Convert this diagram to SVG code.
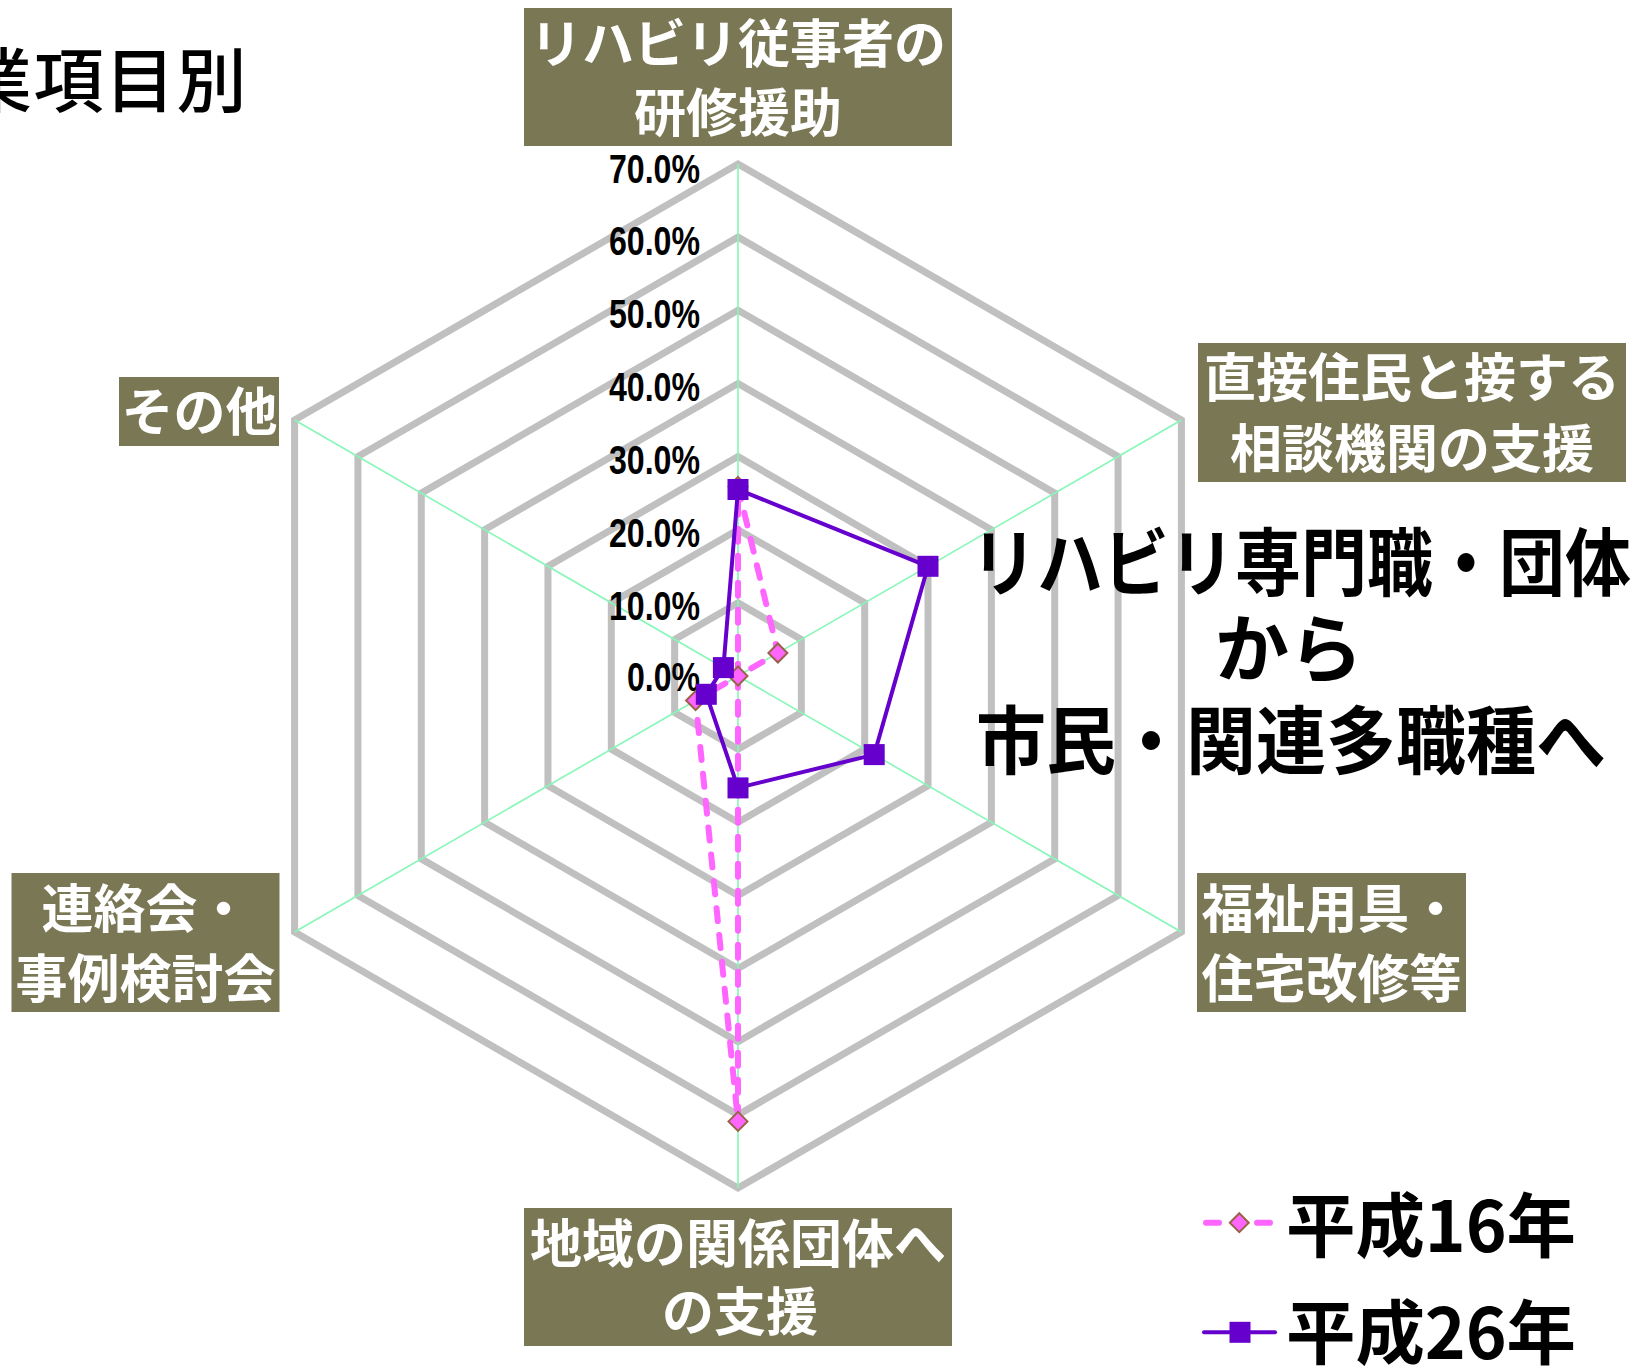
<svg xmlns="http://www.w3.org/2000/svg" width="1637" height="1366" viewBox="0 0 1637 1366">
<style>
.ring{fill:none;stroke:#c0c0c0;stroke-width:7;stroke-linejoin:miter}
.spoke{stroke:#86f7b6;stroke-width:1.6}
.pct{font-family:"Liberation Sans",Arial,sans-serif;font-weight:bold;font-size:40px;fill:#000;text-anchor:end}
.box{fill:#7a7755}
.cat{font-family:"Noto Sans CJK JP","Noto Sans CJK SC",sans-serif;font-weight:bold;font-size:52px;fill:#fff;text-anchor:middle}
.big{font-family:"Noto Sans CJK JP","Noto Sans CJK SC",sans-serif;font-weight:bold;font-size:74px;fill:#000;text-anchor:middle}
.leg{font-family:"Noto Sans CJK JP","Noto Sans CJK SC",sans-serif;font-weight:bold;font-size:70px;fill:#000}
.s16{fill:none;stroke:#ff66ff;stroke-width:6;stroke-dasharray:13 14;stroke-linecap:round;stroke-linejoin:round}
.s16solid{fill:none;stroke:#ff66ff;stroke-width:6;stroke-linecap:round}
.s26{fill:none;stroke:#6600cc;stroke-width:4;stroke-linejoin:round}
.m16{fill:#ff66ff;stroke:#9a6248;stroke-width:2}
.m26{fill:#6600cc}
</style>
<defs>
<path id="dia" d="M0,-9.5 L9.5,0 L0,9.5 L-9.5,0 Z"/>
<rect id="sq" x="-10.5" y="-10.5" width="21" height="21"/>
</defs>
<rect width="1637" height="1366" fill="#fff"/>

<g id="title">
<text x="-38" y="107" font-family="'Noto Sans CJK JP','Noto Sans CJK SC',sans-serif" font-size="70" font-weight="500" letter-spacing="1.5" fill="#000">業項目別</text>
</g>

<g id="grid">
<polygon class="ring" points="738,602.86 801.34,639.43 801.34,712.57 738,749.14 674.66,712.57 674.66,639.43"/>
<polygon class="ring" points="738,529.71 864.69,602.86 864.69,749.14 738,822.29 611.31,749.14 611.31,602.86"/>
<polygon class="ring" points="738,456.57 928.03,566.29 928.03,785.71 738,895.43 547.97,785.71 547.97,566.29"/>
<polygon class="ring" points="738,383.43 991.37,529.71 991.37,822.29 738,968.57 484.63,822.29 484.63,529.71"/>
<polygon class="ring" points="738,310.29 1054.71,493.14 1054.71,858.86 738,1041.71 421.29,858.86 421.29,493.14"/>
<polygon class="ring" points="738,237.14 1118.06,456.57 1118.06,895.43 738,1114.86 357.94,895.43 357.94,456.57"/>
<polygon class="ring" points="738,164 1181.41,420 1181.41,932 738,1188 294.59,932 294.59,420"/>
</g>

<g id="spokes">
<line class="spoke" x1="738" y1="676" x2="738" y2="164"/>
<line class="spoke" x1="738" y1="676" x2="1181.41" y2="420"/>
<line class="spoke" x1="738" y1="676" x2="1181.41" y2="932"/>
<line class="spoke" x1="738" y1="676" x2="738" y2="1188"/>
<line class="spoke" x1="738" y1="676" x2="294.59" y2="932"/>
<line class="spoke" x1="738" y1="676" x2="294.59" y2="420"/>
</g>

<g id="axis-labels">
<text class="pct" x="700" y="183" textLength="91" lengthAdjust="spacingAndGlyphs">70.0%</text>
<text class="pct" x="700" y="255" textLength="91" lengthAdjust="spacingAndGlyphs">60.0%</text>
<text class="pct" x="700" y="328" textLength="91" lengthAdjust="spacingAndGlyphs">50.0%</text>
<text class="pct" x="700" y="401" textLength="91" lengthAdjust="spacingAndGlyphs">40.0%</text>
<text class="pct" x="700" y="474" textLength="91" lengthAdjust="spacingAndGlyphs">30.0%</text>
<text class="pct" x="700" y="547" textLength="91" lengthAdjust="spacingAndGlyphs">20.0%</text>
<text class="pct" x="700" y="620" textLength="91" lengthAdjust="spacingAndGlyphs">10.0%</text>
<text class="pct" x="700" y="691" textLength="73" lengthAdjust="spacingAndGlyphs">0.0%</text>
</g>

<g id="connectors">
<g id="series-h16">
<polygon class="s16" points="738,486.5 777.9,653 738,676 738,1121.4 695.6,700.5 738,676"/>
<use href="#dia" class="m16" x="738" y="486.5"/>
<use href="#dia" class="m16" x="777.9" y="653"/>
<use href="#dia" class="m16" x="738" y="676"/>
<use href="#dia" class="m16" x="738" y="1121.4"/>
<use href="#dia" class="m16" x="695.6" y="700.5"/>
</g>
<g id="series-h26">
<polygon class="s26" points="738,489.5 928,566.3 874.2,754.6 738,787.9 706.3,694.3 723.4,667.6"/>
<use href="#sq" class="m26" x="738" y="489.5"/>
<use href="#sq" class="m26" x="928" y="566.3"/>
<use href="#sq" class="m26" x="874.2" y="754.6"/>
<use href="#sq" class="m26" x="738" y="787.9"/>
<use href="#sq" class="m26" x="706.3" y="694.3"/>
<use href="#sq" class="m26" x="723.4" y="667.6"/>
</g>
</g>

<g id="cat-top">
<rect class="box" x="524" y="8" width="428" height="138"/>
<text class="cat" x="738" y="63">リハビリ従事者の</text>
<text class="cat" x="738" y="132">研修援助</text>
</g>
<g id="cat-upper-right">
<rect class="box" x="1198" y="343" width="428" height="139"/>
<text class="cat" x="1412" y="397">直接住民と接する</text>
<text class="cat" x="1412" y="468">相談機関の支援</text>
</g>
<g id="cat-lower-right">
<rect class="box" x="1197" y="873" width="269" height="139"/>
<text class="cat" x="1331.5" y="928">福祉用具・</text>
<text class="cat" x="1331.5" y="998">住宅改修等</text>
</g>
<g id="cat-bottom">
<rect class="box" x="524" y="1208" width="428" height="138"/>
<text class="cat" x="738" y="1263">地域の関係団体へ</text>
<text class="cat" x="740" y="1331">の支援</text>
</g>
<g id="cat-lower-left">
<rect class="box" x="11.5" y="873" width="268" height="139"/>
<text class="cat" x="145.6" y="928">連絡会・</text>
<text class="cat" x="145.6" y="998">事例検討会</text>
</g>
<g id="cat-upper-left">
<rect class="box" x="119" y="377" width="160" height="69"/>
<text class="cat" x="199.5" y="431">その他</text>
</g>

<g id="annotation">
<text class="big" x="1301" y="590" textLength="660" lengthAdjust="spacingAndGlyphs">リハビリ専門職・団体</text>
<text class="big" x="1289" y="676">から</text>
<text class="big" x="1291" y="768" textLength="630" lengthAdjust="spacingAndGlyphs">市民・関連多職種へ</text>
</g>

<g id="legend">
<line class="s16solid" x1="1206" y1="1222.7" x2="1219" y2="1222.7"/>
<line class="s16solid" x1="1257" y1="1222.7" x2="1270" y2="1222.7"/>
<use href="#dia" class="m16" x="1239.3" y="1222.7"/>
<text class="leg" x="1286" y="1252" textLength="290" lengthAdjust="spacingAndGlyphs">平成16年</text>
<line class="s26" x1="1204" y1="1332.3" x2="1275" y2="1332.3" style="stroke-linecap:round"/>
<use href="#sq" class="m26" x="1240" y="1332.3"/>
<text class="leg" x="1286" y="1359" textLength="290" lengthAdjust="spacingAndGlyphs">平成26年</text>
</g>
</svg>
